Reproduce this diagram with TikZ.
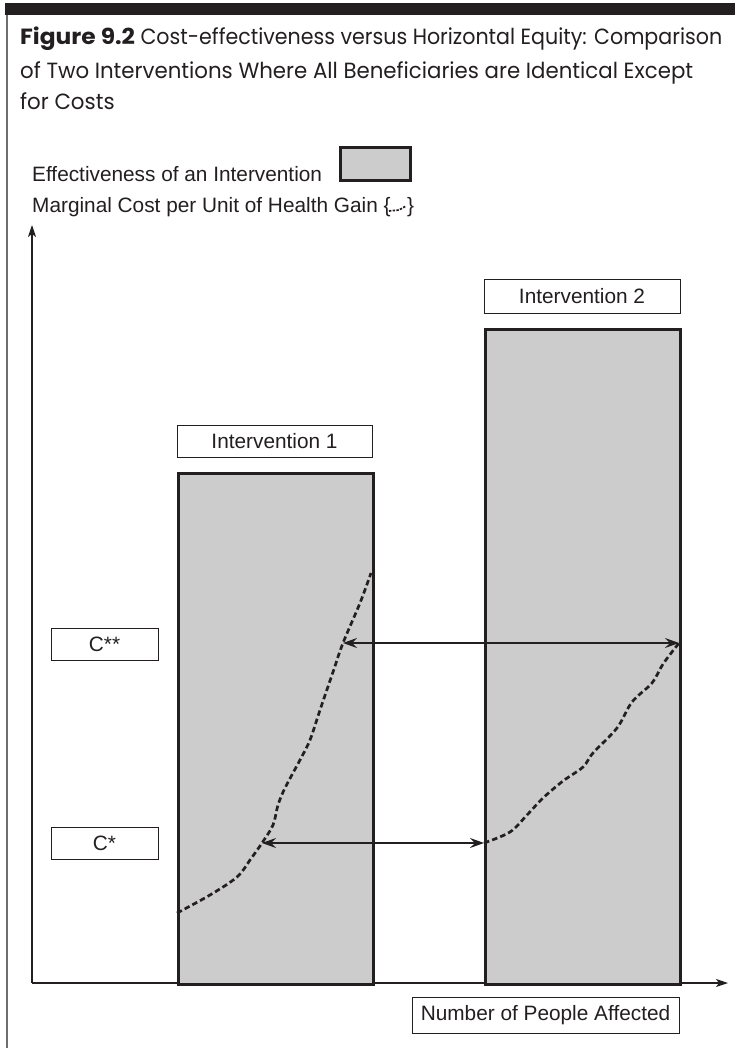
\documentclass[tikz,border=0pt]{standalone}
\usepackage{fontspec}
\usepackage{graphicx}
\setmainfont{Liberation Sans}
\newfontfamily\titlefont{Poppins}[FakeStretch=0.97]
\newfontfamily\titleboldfont{Poppins}[FakeStretch=1.1]
\usetikzlibrary{arrows.meta}
\definecolor{ink}{HTML}{231F20}
\definecolor{barfill}{HTML}{CCCCCC}
\definecolor{rule}{HTML}{6D6E71}
\tikzset{
  lbl/.style={font=\fontsize{20.8}{24}\selectfont, text=ink, inner sep=0pt},
  bar/.style={draw=ink, line width=2.6pt, fill=barfill, inner sep=0pt, anchor=north west},
  labelbox/.style={lbl, draw=ink, line width=1pt, fill=white},
  axis/.style={draw=ink, line width=1.2pt, -{Stealth[length=12pt,width=8pt,inset=3pt]}},
  costcurve/.style={draw=ink, line width=2.7pt, dash pattern=on 5.5pt off 3.2pt},
  gap/.style={draw=ink, line width=1.2pt,
    {Stealth[length=14pt,width=10pt,inset=5pt]}-{Stealth[length=14pt,width=10pt,inset=5pt]}},
  titleline/.style={anchor=base west, inner sep=0pt, text=ink,
    font=\titlefont\fontsize{22}{26}\selectfont},
}
\begin{document}
\begin{tikzpicture}[x=1pt, y=-1pt]
\useasboundingbox (0,0) rectangle (735,1048);

% page frame: heavy top rule and thin left rule
\fill[ink] (5,3) rectangle (735,15);
\draw[rule, line width=1.5pt] (7,15) -- (7,1048);

% caption
\node[titleline] (t1) at (20,45) {\resizebox{702pt}{\height}{{\titleboldfont\bfseries Figure 9.2} Cost-effectiveness versus Horizontal Equity: Comparison}};
\node[titleline] (t2) at (20,79) {\resizebox{673pt}{\height}{of Two Interventions Where All Beneficiaries are Identical Except}};
\node[titleline] (t3) at (20,110) {for Costs};

% legend
\node[lbl, anchor=base west] (legA) at (32,182) {Effectiveness of an Intervention};
\node[draw=ink, line width=2.6pt, fill=barfill, minimum width=70, minimum height=33, inner sep=0pt, anchor=south west] (legbox) at (339,182) {};
\node[lbl, anchor=base west] (legB) at (32,213) {Marginal Cost per Unit of Health Gain \{};
\node[lbl, anchor=base west] (legrb) at (407,213) {\}};
\draw[draw=ink, line width=1.7pt, dash pattern=on 2.4pt off 1.3pt] (389,211) -- (399,210) -- (406,206);

% axes
\coordinate (origin) at (32,983);
\coordinate (ytip) at (32,225);
\coordinate (xtip) at (728,983);
\draw[axis] (origin) -- (ytip);
\draw[axis] (origin) -- (xtip);

% bars
\node[bar, minimum width=195, minimum height=511] (bar1) at (177,472) {};
\node[bar, minimum width=195, minimum height=655] (bar2) at (484,328) {};

% bar labels
\node[labelbox, minimum width=195, minimum height=32] (lab1) at (274.5,441) {Intervention 1};
\node[labelbox, minimum width=196, minimum height=33] (lab2) at (582,296.5) {Intervention 2};

% cost levels
\node[labelbox, minimum width=107, minimum height=32] (cc2) at (104.5,644) {C**};
\node[labelbox, minimum width=107, minimum height=32] (cc1) at (104.5,843) {C*};

% axis label
\node[labelbox, minimum width=267, minimum height=36] (xlab) at (545.5,1015) {Number of People Affected};

% marginal cost curves
\coordinate (p1s) at (262,843);
\coordinate (p1d) at (343,643);
\coordinate (p2s) at (484,843);
\coordinate (p2d) at (679,643);
\draw[costcurve] plot[smooth, tension=0.55] coordinates {
  (177,913) (210,895) (237,877) (250,860) (p1s) (273,825) (278,805)
  (285,788) (300,760) (310,740) (320,710) (333,672) (p1d) (360,603) (371,573)};
\draw[costcurve] plot[smooth, tension=0.55] coordinates {
  (p2s) (510,832) (527,815) (543,798) (563,781) (583,767) (593,753)
  (617,728) (632,702) (652,683) (663,664) (p2d)};

% equal-cost gaps
\draw[gap] (p1s) -- (p2s);
\draw[gap] (p1d) -- (p2d);
\end{tikzpicture}
\end{document}
